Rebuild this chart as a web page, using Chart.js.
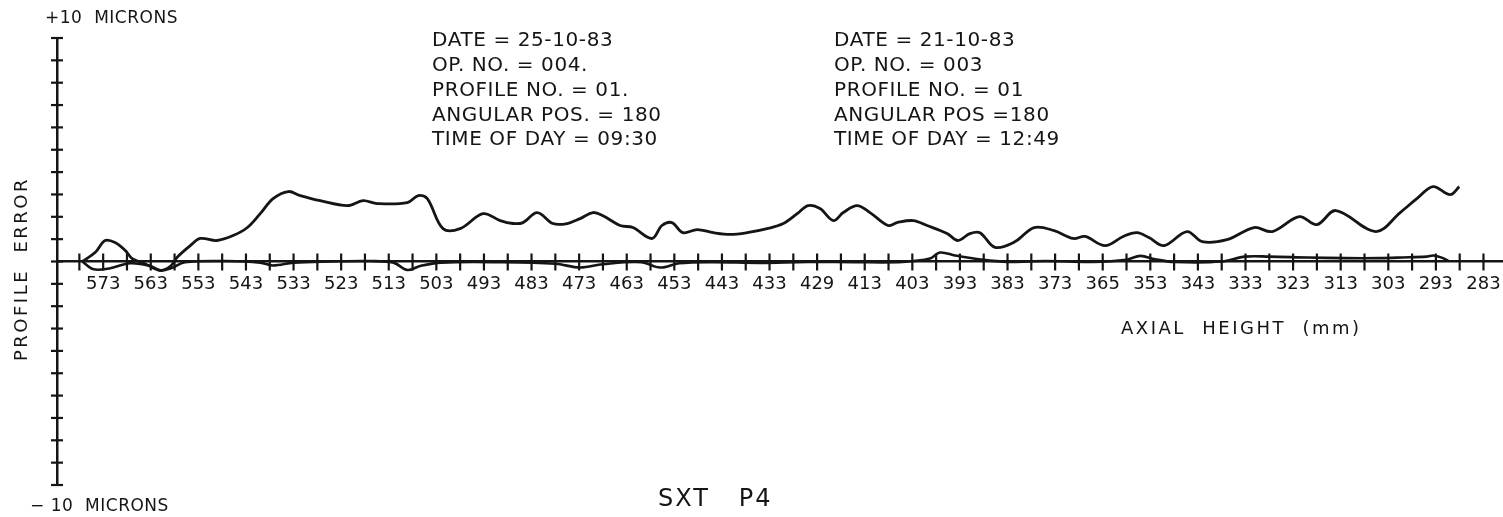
<!DOCTYPE html>
<html>
<head>
<meta charset="utf-8">
<script src="https://cdn.jsdelivr.net/npm/chart.js@4.4.1/dist/chart.umd.min.js"></script>
<style>
  html, body { margin: 0; padding: 0; background: #ffffff; }
  #wrap { width: 1503px; height: 517px; position: relative; }
</style>
</head>
<body>
<div id="wrap"><canvas id="c"></canvas></div>
<script>
// ---- data ----
// axial height (mm) of each sample, run 25-10-83 (upper trace)
const upperX = [577.4,574.7,572.6,570.5,568.4,566.9,564.2,561.0,558.9,557.5,554.7,552.6,549.1,545.7,542.7,540.0,537.3,534.1,531.6,527.4,521.7,518.4,515.4,509.1,506.8,504.9,501.6,498.0,493.2,489.6,486.9,484.8,481.8,478.5,475.5,472.8,470.1,468.0,464.4,461.7,457.7,455.6,453.5,451.2,448.2,444.8,441.3,437.7,433.5,430.1,427.2,424.9,422.4,419.6,417.5,414.6,411.9,408.1,406.2,402.8,399.9,395.7,393.4,390.9,388.8,385.6,381.4,377.4,373.2,369.2,366.7,362.5,358.7,355.8,353.3,350.1,345.3,342.1,336.9,331.2,327.4,321.7,318.0,314.0,305.6,300.5,297.0,293.6,290.0,288.1];
// profile error (microns), upper trace
const upperY = [0,0.4,0.94,0.85,0.5,0.13,-0.1,-0.4,-0.22,0.18,0.71,1.03,0.94,1.16,1.52,2.14,2.81,3.13,2.95,2.72,2.5,2.72,2.59,2.63,2.95,2.81,1.47,1.47,2.14,1.83,1.70,1.74,2.19,1.70,1.70,1.92,2.19,2.05,1.61,1.52,1.03,1.61,1.74,1.29,1.43,1.29,1.21,1.29,1.47,1.70,2.14,2.5,2.37,1.83,2.19,2.5,2.19,1.61,1.74,1.83,1.61,1.25,0.94,1.25,1.29,0.63,0.89,1.52,1.38,1.03,1.12,0.71,1.12,1.29,1.07,0.71,1.34,0.89,0.98,1.52,1.34,2.01,1.65,2.28,1.34,2.19,2.81,3.35,2.99,3.35];
// run 21-10-83 (trace near zero)
const lowerX = [577.4,575.0,571.5,567.3,563.1,561.0,558.5,555.8,547,540,537.3,533,525,517,512,509.1,506.4,502,490,478,472.8,468,460,456,452,445,435,425,415,405,399.3,397.2,394,389,383,375,365,358,355.1,352,348,338,333.1,328,320,312,305,300,295,293.4,291.5,290.4];
const lowerY = [0,-0.35,-0.3,-0.08,-0.2,-0.4,-0.28,-0.03,0.02,-0.05,-0.18,-0.05,0.0,0.02,-0.05,-0.38,-0.2,-0.05,-0.03,-0.1,-0.27,-0.12,-0.03,-0.27,-0.08,-0.03,-0.06,-0.02,-0.03,-0.02,0.13,0.4,0.27,0.1,-0.02,0.02,-0.02,0.08,0.25,0.1,-0.02,0.0,0.22,0.22,0.18,0.15,0.15,0.18,0.22,0.27,0.15,0.03];

// x-axis ticks: a mark every 5 mm, a label every 10 mm (labels as printed)
const minorTicks = [578,573,568,563,558,553,548,543,538,533,528,523,518,513,508,503,498,493,488,483,478,473,468,463,458,453,448,443,438,433,428,423,418,413,408,403,398,393,388,383,378,373,368,363,358,353,348,343,338,333,328,323,318,313,308,303,298,293,288,283];
const labelTicks = [573,563,553,543,533,523,513,503,493,483,473,463,453,443,433,423,413,403,393,383,373,363,353,343,333,323,313,303,293,283];
const tickLabels = ['573','563','553','543','533','523','513','503','493','483','473','463','453','443','433','429','413','403','393','383','373','365','353','343','333','323','313','303','293','283'];
// y-axis ticks: every micron
const yTicks = [-10,-9,-8,-7,-6,-5,-4,-3,-2,-1,0,1,2,3,4,5,6,7,8,9,10];

const block1 = ['DATE = 25-10-83','OP. NO. = 004.','PROFILE NO. = 01.','ANGULAR POS. = 180','TIME OF DAY = 09:30'];
const block2 = ['DATE = 21-10-83','OP. NO. = 003','PROFILE NO. = 01','ANGULAR POS =180','TIME OF DAY = 12:49'];

const INK = '#151515';
const FONT = '"DejaVu Sans", "Liberation Sans", sans-serif';

const toPts = (xs, ys) => xs.map((x, i) => ({x: x, y: ys[i]}));

const decor = {
  id: 'decor',
  afterDraw(chart) {
    const {ctx, scales: {x, y}, chartArea: ca} = chart;
    ctx.save();
    ctx.strokeStyle = INK;
    ctx.lineWidth = 2.2;
    const y0 = y.getPixelForValue(0);
    // crossing tick marks on x axis
    x.ticks.forEach(t => {
      const px = x.getPixelForValue(t.value);
      ctx.beginPath(); ctx.moveTo(px, y0 - 8); ctx.lineTo(px, y0 + 9); ctx.stroke();
    });
    // crossing tick marks on y axis
    const ax = ca.left;
    y.ticks.forEach(t => {
      const py = y.getPixelForValue(t.value);
      ctx.beginPath(); ctx.moveTo(ax - 6, py); ctx.lineTo(ax + 6, py); ctx.stroke();
    });
    ctx.fillStyle = INK;
    ctx.textBaseline = 'middle';
    ctx.textAlign = 'left';
    // axis end labels
    ctx.font = '17px ' + FONT;
    ctx.letterSpacing = '0.5px';
    ctx.fillText('+10  MICRONS', ax - 12, y.getPixelForValue(10) - 19);
    ctx.fillText('\u2212 10  MICRONS', ax - 27, y.getPixelForValue(-10) + 22);
    // axis titles
    ctx.letterSpacing = '2.5px';
    ctx.font = '18px ' + FONT;
    ctx.fillText('AXIAL  HEIGHT  (mm)', 1121, y0 + 68);
    ctx.save();
    ctx.translate(22, 269);
    ctx.rotate(-Math.PI / 2);
    ctx.textAlign = 'center';
    ctx.fillText('PROFILE  ERROR', 0, 0);
    ctx.restore();
    // info blocks
    ctx.letterSpacing = '0.6px';
    ctx.font = '20px ' + FONT;
    block1.forEach((s, i) => ctx.fillText(s, 432, 41 + i * 24.8));
    block2.forEach((s, i) => ctx.fillText(s, 834, 41 + i * 24.8));
    // caption
    ctx.letterSpacing = '2px';
    ctx.font = '24px ' + FONT;
    ctx.fillText('SXT   P4', 658, 500);
    ctx.restore();
  }
};

new Chart(document.getElementById('c'), {
  type: 'line',
  data: {
    datasets: [
      { label: '25-10-83', data: toPts(upperX, upperY), borderColor: INK, borderWidth: 2.8, pointRadius: 0, tension: 0.35, fill: false },
      { label: '21-10-83', data: toPts(lowerX, lowerY), borderColor: INK, borderWidth: 2.6, pointRadius: 0, tension: 0.35, fill: false }
    ]
  },
  options: {
    responsive: true,
    maintainAspectRatio: false,
    animation: false,
    events: [],
    layout: { padding: { left: 57, top: 38, right: 0, bottom: 32 } },
    plugins: { legend: { display: false }, tooltip: { enabled: false }, title: { display: false } },
    scales: {
      x: {
        type: 'linear',
        reverse: true,
        min: 278.9,
        max: 582.7,
        position: { y: 0 },
        grid: { display: false, drawTicks: true, tickLength: 10 },
        border: { display: true, color: INK, width: 2.5 },
        afterBuildTicks: scale => { scale.ticks = minorTicks.map(v => ({ value: v })); },
        ticks: {
          autoSkip: false,
          maxRotation: 0,
          padding: 2,
          color: INK,
          font: { family: FONT, size: 18 },
          callback: v => { const i = labelTicks.indexOf(v); return i >= 0 ? tickLabels[i] : ''; }
        }
      },
      y: {
        type: 'linear',
        min: -10,
        max: 10,
        position: 'left',
        grid: { display: false, drawTicks: false },
        border: { display: true, color: INK, width: 2.5 },
        afterBuildTicks: scale => { scale.ticks = yTicks.map(v => ({ value: v })); },
        ticks: { display: false }
      }
    }
  },
  plugins: [decor]
});
</script>
</body>
</html>
